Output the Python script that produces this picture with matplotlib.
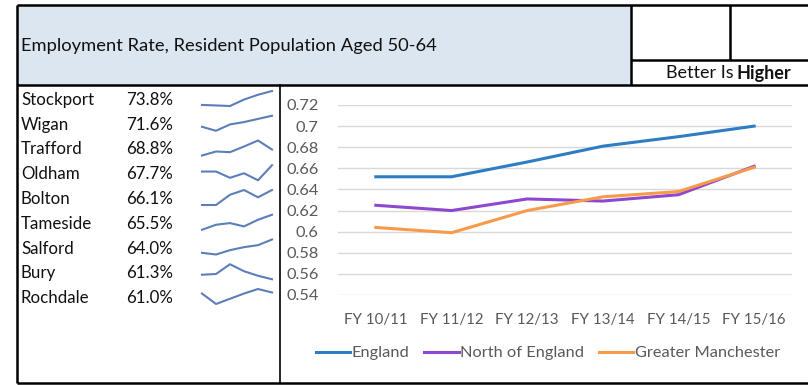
import matplotlib
matplotlib.use("Agg")
import matplotlib.pyplot as plt
from matplotlib.patches import Rectangle

plt.rcParams['font.family'] = ['Lato', 'DejaVu Sans']

# ---- data ----
years = ['FY 10/11', 'FY 11/12', 'FY 12/13', 'FY 13/14', 'FY 14/15', 'FY 15/16']
england = [0.652, 0.652, 0.666, 0.681, 0.690, 0.700]
north = [0.625, 0.620, 0.631, 0.629, 0.635, 0.662]
gm = [0.604, 0.599, 0.620, 0.633, 0.638, 0.661]

boroughs = ['Stockport', 'Wigan', 'Trafford', 'Oldham', 'Bolton',
            'Tameside', 'Salford', 'Bury', 'Rochdale']
latest = ['73.8%', '71.6%', '68.8%', '67.7%', '66.1%',
          '65.5%', '64.0%', '61.3%', '61.0%']
# sparkline series (estimated from the shapes)
spark_stockport = [0.712, 0.711, 0.710, 0.722, 0.731, 0.738]
spark_wigan = [0.702, 0.697, 0.705, 0.708, 0.712, 0.716]
spark_trafford = [0.670, 0.682, 0.680, 0.697, 0.715, 0.688]
spark_oldham = [0.659, 0.659, 0.641, 0.654, 0.634, 0.677]
spark_bolton = [0.620, 0.620, 0.648, 0.661, 0.641, 0.661]
spark_tameside = [0.610, 0.625, 0.630, 0.620, 0.640, 0.655]
spark_salford = [0.600, 0.595, 0.608, 0.617, 0.623, 0.640]
spark_bury = [0.626, 0.628, 0.656, 0.636, 0.623, 0.613]
spark_rochdale = [0.607, 0.577, 0.592, 0.607, 0.620, 0.610]
sparks = [spark_stockport, spark_wigan, spark_trafford, spark_oldham, spark_bolton,
          spark_tameside, spark_salford, spark_bury, spark_rochdale]

W, H = 808, 385
fig = plt.figure(figsize=(W / 100, H / 100), dpi=100)


def px_axes(x0, y0, w, h, **kw):
    # axes placed with pixel coords measured from top-left
    return fig.add_axes([x0 / W, 1 - (y0 + h) / H, w / W, h / H], **kw)


# background layer for boxes and text
bg = px_axes(0, 0, W, H)
bg.set_xlim(0, W)
bg.set_ylim(H, 0)
bg.axis('off')

bg.add_patch(Rectangle((17, 5), 614, 80, facecolor='#DCE6F1', edgecolor='none'))
lk = dict(color='black', lw=1.8, solid_capstyle='butt')
bg.plot([17, W], [5, 5], **lk)
bg.plot([17, 17], [5, 383], **lk)
bg.plot([17, W], [85, 85], **lk)
bg.plot([17, W], [383, 383], **lk)
bg.plot([631, 631], [5, 85], **lk)
bg.plot([730, 730], [5, 60], **lk)
bg.plot([631, W], [60, 60], **lk)
bg.plot([280, 280], [85, 383], color='black', lw=1.2)

bg.text(21, 46, 'Employment Rate, Resident Population Aged 50-64',
        fontsize=13.2, va='center', ha='left', color='#111111')
bg.text(734, 73, 'Better Is', fontsize=13, va='center', ha='right', color='#111111')
bg.text(737, 73, 'Higher', fontsize=13, va='center', ha='left',
        fontweight='bold', color='#111111')

row_h = 24.75
for i, (name, val, s) in enumerate(zip(boroughs, latest, sparks)):
    cy = 100 + i * row_h
    bg.text(21, cy, name, fontsize=12.2, va='center', ha='left', color='#111111')
    bg.text(126, cy, val, fontsize=12.2, va='center', ha='left', color='#111111')
    sa = px_axes(202, cy - 9, 70, 15)
    sa.plot(range(len(s)), s, color='#5B7FB8', lw=1.5, clip_on=False)
    sa.set_xlim(0, len(s) - 1)
    sa.set_ylim(min(s), max(s))
    sa.axis('off')

# main chart
ax = px_axes(338, 105, 454, 190)
ax.plot(range(len(years)), england, color='#2E7DC2', lw=2.2, label='England')
ax.plot(range(len(years)), north, color='#8E47CF', lw=2.2, label='North of England')
ax.plot(range(len(years)), gm, color='#F79A4A', lw=2.2, label='Greater Manchester')
ax.set_xlim(-0.5, len(years) - 0.5)
ax.set_ylim(0.54, 0.72)
yt = [0.54 + 0.02 * k for k in range(10)]
ax.set_yticks(yt)
ax.set_yticklabels([f'{round(v, 2):g}' for v in yt])
ax.set_xticks(range(len(years)))
ax.set_xticklabels(years)
ax.grid(axis='y', color='#D9D9D9', lw=1)
ax.set_axisbelow(True)
for sp in ax.spines.values():
    sp.set_visible(False)
ax.tick_params(length=0, labelcolor='#595959')
ax.tick_params(axis='y', pad=14, labelsize=11.8)
ax.tick_params(axis='x', pad=13, labelsize=10.8)

ax.legend(loc='center', bbox_to_anchor=(548 / W, 1 - 353 / H),
          bbox_transform=fig.transFigure, ncol=3, frameon=False,
          fontsize=11.8, handlelength=2.1, handletextpad=0.1, columnspacing=0.9,
          labelcolor='#595959')

fig.savefig('out.png', dpi=100)
